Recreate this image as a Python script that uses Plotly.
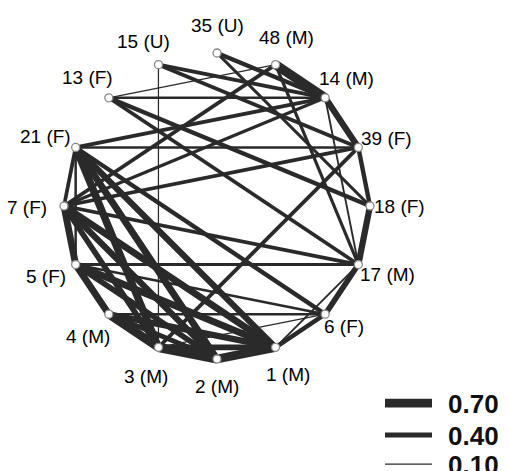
import math
import plotly.graph_objects as go

# ---- data ----
node_names = ["35 (U)", "48 (M)", "14 (M)", "39 (F)", "18 (F)", "17 (M)", "6 (F)", "1 (M)",
              "2 (M)", "3 (M)", "4 (M)", "5 (F)", "7 (F)", "21 (F)", "13 (F)", "15 (U)"]
node_ids = ["35", "48", "14", "39", "18", "17", "6", "1", "2", "3", "4", "5", "7", "21", "13", "15"]

edge_src = ["48", "14", "39", "18", "17", "6", "1", "2", "3", "4", "5", "7", "21",
            "13", "13", "13", "13", "15", "15", "15", "35", "35", "48", "48", "14",
            "21", "21", "7", "7", "5", "3", "17", "6", "7",
            "21", "21", "21", "21", "7", "7", "7", "5", "5", "5", "4", "4", "4", "3", "5"]
edge_dst = ["14", "39", "18", "17", "6", "1", "2", "3", "4", "5", "7", "21", "5",
            "48", "14", "18", "17", "3", "14", "39", "14", "18", "7", "17", "17",
            "14", "39", "39", "17", "17", "39", "1", "3", "14",
            "3", "2", "1", "6", "1", "2", "3", "1", "2", "6", "6", "1", "2", "1", "4"]
edge_weight = [0.75, 0.50, 0.35, 0.50, 0.45, 0.35, 0.70, 0.75, 0.70, 0.55, 0.55, 0.30, 0.20,
               0.10, 0.20, 0.35, 0.30, 0.10, 0.30, 0.30, 0.35, 0.25, 0.30, 0.25, 0.15,
               0.30, 0.20, 0.30, 0.30, 0.25, 0.30, 0.15, 0.10, 0.25,
               0.60, 0.55, 0.50, 0.35, 0.55, 0.50, 0.45, 0.55, 0.45, 0.20, 0.20, 0.50, 0.40, 0.45, 0.40]

legend_values = [0.70, 0.40, 0.10]
legend_labels = ["0.70", "0.40", "0.10"]

# ---- layout / style ----
CX, CY, R = 217, 206, 153
label_offsets = [(0, -28), (11, -27), (21, -19), (28, -9), (29, 0), (29, 10), (19, 12), (12, 27),
                 (0, 27), (-12, 29), (-21, 22), (-30, 12), (-37, 1), (-30, -11), (-21, -20), (-15, -23)]
EDGE_COLOR = "#2a2a2a"
WSCALE = 12.5

n = len(node_ids)
pos = {}
for i, nid in enumerate(node_ids):
    a = math.radians(90 - 360.0 / n * i)
    pos[nid] = (CX + R * math.cos(a), CY - R * math.sin(a))

fig = go.Figure()
order = sorted(range(len(edge_src)), key=lambda k: edge_weight[k])
for k in order:
    x0, y0 = pos[edge_src[k]]
    x1, y1 = pos[edge_dst[k]]
    fig.add_trace(go.Scatter(x=[x0, x1], y=[y0, y1], mode="lines",
                             line=dict(color=EDGE_COLOR, width=edge_weight[k] * WSCALE),
                             hoverinfo="skip", showlegend=False))

fig.add_trace(go.Scatter(
    x=[pos[i][0] for i in node_ids], y=[pos[i][1] for i in node_ids], mode="markers",
    marker=dict(size=8, color="white", line=dict(color="#8a8a8a", width=1.3)),
    showlegend=False, hoverinfo="skip"))

for i, nid in enumerate(node_ids):
    fig.add_annotation(x=pos[nid][0] + label_offsets[i][0], y=pos[nid][1] + label_offsets[i][1],
                       text=node_names[i], showarrow=False, xanchor="center", yanchor="middle",
                       font=dict(family="Liberation Sans", size=19, color="#000"))

# legend
leg_y = [403, 435, 464]
for v, lab, yy in zip(legend_values, legend_labels, leg_y):
    fig.add_trace(go.Scatter(x=[385, 432], y=[yy, yy], mode="lines",
                             line=dict(color=EDGE_COLOR, width=v * WSCALE),
                             hoverinfo="skip", showlegend=False))
    fig.add_annotation(x=446, y=yy + 1, text="<b>" + lab + "</b>", showarrow=False,
                       xanchor="left", yanchor="middle",
                       font=dict(family="Liberation Sans", size=26, color="#111"))

fig.update_layout(width=509, height=471, margin=dict(l=0, r=0, t=0, b=0),
                  plot_bgcolor="white", paper_bgcolor="white",
                  xaxis=dict(range=[0, 509], visible=False, fixedrange=True),
                  yaxis=dict(range=[471, 0], visible=False, fixedrange=True))
fig.write_html("out.html", config={"displayModeBar": False, "staticPlot": True})

# remove the default page margin so the chart sits at the window's corner
with open("out.html", "r", encoding="utf-8") as f:
    html = f.read()
html = html.replace("<body>", '<body style="margin:0;overflow:hidden">', 1)
with open("out.html", "w", encoding="utf-8") as f:
    f.write(html)
